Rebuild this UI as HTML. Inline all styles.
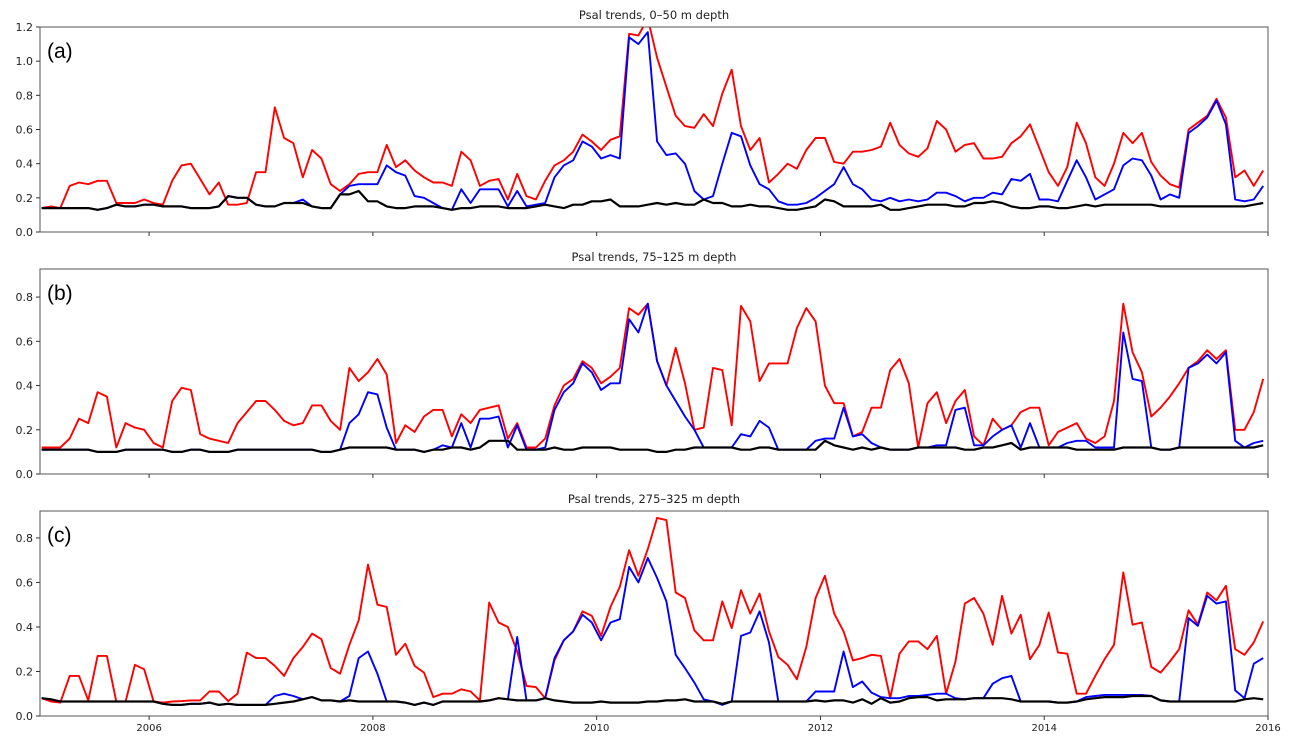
<!DOCTYPE html>
<html><head><meta charset="utf-8">
<style>
html,body{margin:0;padding:0;background:#fff;}
svg{display:block;font-family:"DejaVu Sans","Liberation Sans",sans-serif;}
</style></head>
<body>
<svg id="chart" width="1294" height="746" viewBox="0 0 1294 746" xmlns="http://www.w3.org/2000/svg"></svg>
<script>
const xTickYears = [2006, 2008, 2010, 2012, 2014, 2016];
const panelTitles = ["Psal trends, 0\u201350 m depth", "Psal trends, 75\u2013125 m depth", "Psal trends, 275\u2013325 m depth"];
const panelLetters = ["(a)", "(b)", "(c)"];
const yTicksA = [0.0, 0.2, 0.4, 0.6, 0.8, 1.0, 1.2];
const yTicksB = [0.0, 0.2, 0.4, 0.6, 0.8];
const yTicksC = [0.0, 0.2, 0.4, 0.6, 0.8];
const startYear = 2005.04;

const redA = [.14,.15,.14,.27,.29,.28,.30,.30,.17,.17,
.17,.19,.17,.16,.30,.39,.40,.31,.22,.29,
.16,.16,.17,.35,.35,.73,.55,.52,.32,.48,
.43,.28,.24,.28,.34,.35,.35,.51,.38,.42,
.36,.32,.29,.29,.27,.47,.42,.27,.30,.31,
.19,.34,.21,.19,.30,.39,.42,.47,.57,.53,
.48,.54,.56,1.16,1.15,1.25,1.02,.85,.68,.62,
.61,.69,.62,.81,.95,.62,.48,.55,.29,.34,
.40,.37,.48,.55,.55,.41,.40,.47,.47,.48,
.50,.64,.51,.46,.44,.49,.65,.60,.47,.51,
.52,.43,.43,.44,.52,.56,.63,.49,.35,.27,
.38,.64,.52,.32,.27,.40,.58,.52,.58,.41,
.33,.28,.26,.60,.64,.68,.78,.67,.32,.36,
.27,.36];
const blueA = [.14,.14,.14,.14,.14,.14,.13,.14,.16,.15,
.15,.16,.16,.15,.15,.15,.14,.14,.14,.15,
.21,.20,.20,.16,.15,.15,.17,.17,.19,.15,
.14,.14,.22,.27,.28,.28,.28,.39,.35,.33,
.21,.20,.17,.14,.13,.25,.17,.25,.25,.25,
.15,.24,.15,.16,.17,.32,.39,.42,.53,.50,
.43,.45,.43,1.14,1.10,1.17,.53,.45,.46,.40,
.24,.19,.21,.40,.58,.56,.39,.28,.25,.18,
.16,.16,.17,.20,.24,.28,.38,.28,.25,.19,
.18,.20,.18,.19,.18,.19,.23,.23,.21,.18,
.20,.20,.23,.22,.31,.30,.34,.19,.19,.18,
.30,.42,.32,.19,.22,.25,.39,.43,.42,.33,
.19,.22,.20,.58,.62,.67,.77,.63,.19,.18,
.19,.27];
const blackA = [.14,.14,.14,.14,.14,.14,.13,.14,.16,.15,
.15,.16,.16,.15,.15,.15,.14,.14,.14,.15,
.21,.20,.20,.16,.15,.15,.17,.17,.17,.15,
.14,.14,.22,.22,.24,.18,.18,.15,.14,.14,
.15,.15,.15,.14,.13,.14,.14,.15,.15,.15,
.14,.14,.14,.15,.16,.15,.14,.16,.16,.18,
.18,.19,.15,.15,.15,.16,.17,.16,.17,.16,
.16,.19,.17,.17,.15,.15,.16,.15,.15,.14,
.13,.13,.14,.15,.19,.18,.15,.15,.15,.15,
.16,.13,.13,.14,.15,.16,.16,.16,.15,.15,
.17,.17,.18,.17,.15,.14,.14,.15,.15,.14,
.14,.15,.16,.15,.16,.16,.16,.16,.16,.16,
.15,.15,.15,.15,.15,.15,.15,.15,.15,.15,
.16,.17];

const redB = [.12,.12,.12,.16,.25,.23,.37,.35,.12,.23,
.21,.20,.14,.12,.33,.39,.38,.18,.16,.15,
.14,.23,.28,.33,.33,.29,.24,.22,.23,.31,
.31,.24,.20,.48,.42,.46,.52,.45,.14,.22,
.19,.26,.29,.29,.17,.27,.23,.29,.30,.31,
.16,.23,.12,.12,.16,.31,.40,.43,.51,.48,
.41,.44,.48,.75,.72,.77,.51,.40,.57,.41,
.20,.21,.48,.47,.22,.76,.69,.42,.50,.50,
.50,.66,.75,.69,.40,.32,.32,.17,.19,.30,
.30,.47,.52,.41,.12,.32,.37,.23,.33,.38,
.17,.13,.25,.20,.22,.28,.30,.30,.13,.19,
.21,.23,.16,.14,.17,.33,.77,.55,.46,.26,
.30,.35,.41,.48,.51,.56,.52,.56,.20,.20,
.28,.43];
const blueB = [.11,.11,.11,.11,.11,.11,.10,.10,.10,.11,
.11,.11,.11,.11,.10,.10,.11,.11,.10,.10,
.10,.11,.11,.11,.11,.11,.11,.11,.11,.11,
.10,.10,.11,.23,.27,.37,.36,.21,.11,.11,
.11,.10,.11,.13,.12,.23,.12,.25,.25,.26,
.12,.22,.11,.11,.12,.29,.37,.41,.50,.46,
.38,.41,.41,.70,.64,.77,.51,.40,.33,.26,
.20,.12,.12,.12,.12,.18,.17,.24,.21,.11,
.11,.11,.11,.15,.16,.16,.30,.17,.18,.14,
.12,.11,.11,.11,.12,.12,.13,.13,.29,.30,
.13,.13,.17,.20,.22,.12,.23,.12,.12,.12,
.14,.15,.15,.12,.12,.12,.64,.43,.42,.12,
.11,.11,.12,.48,.50,.54,.50,.55,.15,.12,
.14,.15];
const blackB = [.11,.11,.11,.11,.11,.11,.10,.10,.10,.11,
.11,.11,.11,.11,.10,.10,.11,.11,.10,.10,
.10,.11,.11,.11,.11,.11,.11,.11,.11,.11,
.10,.10,.11,.12,.12,.12,.12,.12,.11,.11,
.11,.10,.11,.11,.12,.12,.11,.12,.15,.15,
.15,.11,.11,.11,.11,.12,.11,.11,.12,.12,
.12,.12,.11,.11,.11,.11,.10,.10,.11,.11,
.12,.12,.12,.12,.12,.11,.11,.12,.12,.11,
.11,.11,.11,.11,.15,.13,.12,.11,.12,.11,
.12,.11,.11,.11,.12,.12,.12,.12,.12,.11,
.11,.12,.12,.13,.14,.11,.12,.12,.12,.12,
.12,.11,.11,.11,.11,.11,.12,.12,.12,.12,
.11,.11,.12,.12,.12,.12,.12,.12,.12,.12,
.12,.13];

const redC = [.08,.065,.06,.18,.18,.07,.27,.27,.065,.065,
.23,.21,.065,.06,.065,.067,.07,.07,.11,.11,
.067,.10,.285,.26,.26,.225,.18,.26,.31,.37,
.345,.215,.19,.32,.43,.68,.50,.49,.275,.325,
.225,.195,.085,.10,.10,.12,.11,.07,.51,.42,
.40,.29,.135,.13,.08,.25,.34,.38,.47,.45,
.36,.49,.58,.745,.63,.75,.89,.88,.555,.53,
.385,.34,.34,.515,.395,.565,.46,.55,.38,.265,
.23,.165,.31,.53,.63,.46,.38,.25,.26,.275,
.27,.08,.28,.335,.335,.30,.36,.10,.245,.505,
.53,.46,.32,.54,.37,.455,.255,.32,.465,.285,
.28,.10,.10,.18,.255,.32,.645,.41,.42,.22,
.195,.245,.30,.475,.41,.555,.52,.585,.30,.275,
.33,.425];
const blueC = [.08,.075,.065,.065,.065,.065,.065,.065,.065,.065,
.065,.065,.065,.055,.05,.05,.055,.055,.06,.05,
.055,.05,.05,.05,.05,.09,.10,.09,.075,.085,
.07,.07,.065,.09,.26,.29,.19,.065,.065,.06,
.05,.06,.05,.065,.065,.065,.065,.065,.07,.08,
.075,.355,.07,.07,.08,.26,.34,.38,.455,.42,
.34,.42,.435,.67,.60,.71,.62,.515,.275,.215,
.15,.075,.065,.05,.065,.36,.375,.47,.33,.065,
.065,.065,.065,.11,.11,.11,.29,.13,.155,.105,
.085,.08,.08,.09,.09,.095,.10,.10,.08,.075,
.08,.08,.145,.17,.18,.065,.065,.065,.065,.06,
.06,.065,.085,.09,.095,.095,.095,.095,.095,.09,
.07,.065,.065,.44,.405,.54,.505,.515,.115,.08,
.235,.26];
const blackC = [.08,.075,.065,.065,.065,.065,.065,.065,.065,.065,
.065,.065,.065,.055,.05,.05,.055,.055,.06,.05,
.055,.05,.05,.05,.05,.055,.06,.065,.075,.085,
.07,.07,.065,.07,.065,.065,.065,.065,.065,.06,
.05,.06,.05,.065,.065,.065,.065,.065,.07,.08,
.075,.07,.07,.07,.08,.07,.065,.06,.06,.06,
.065,.06,.06,.06,.06,.065,.065,.07,.07,.075,
.065,.065,.065,.055,.065,.065,.065,.065,.065,.065,
.065,.065,.065,.07,.065,.07,.07,.06,.075,.055,
.08,.06,.065,.08,.085,.085,.07,.075,.075,.075,
.08,.08,.08,.08,.075,.065,.065,.065,.065,.06,
.06,.065,.075,.08,.085,.085,.085,.09,.09,.09,
.07,.065,.065,.065,.065,.065,.065,.065,.065,.075,
.08,.075];

const NS = "http://www.w3.org/2000/svg";
const svg = document.getElementById("chart");
const X0 = 40, X1 = 1268;
const xMin = 2005.025, xMax = 2016.0;
function xScale(t){ return X0 + (t - xMin) / (xMax - xMin) * (X1 - X0); }
function mk(tag, attrs, parent){
  const e = document.createElementNS(NS, tag);
  for (const k in attrs) e.setAttribute(k, attrs[k]);
  (parent || svg).appendChild(e);
  return e;
}
const panels = [
  {top:27, bottom:232, ymax:1.2, ticks:yTicksA, red:redA, blue:blueA, black:blackA, key:"a"},
  {top:269, bottom:474, ymax:0.927, ticks:yTicksB, red:redB, blue:blueB, black:blackB, key:"b"},
  {top:511, bottom:716, ymax:0.921, ticks:yTicksC, red:redC, blue:blueC, black:blackC, key:"c"}
];
panels.forEach((p, pi) => {
  const g = mk("g", {});
  
  
  const yScale = v => p.bottom - v / p.ymax * (p.bottom - p.top);
  const clipId = "clip" + pi;
  const cp = mk("clipPath", {id: clipId}, g);
  mk("rect", {x: X0, y: p.top, width: X1 - X0, height: p.bottom - p.top}, cp);
  const title = mk("text", {x: 654, y: p.top - 8, "text-anchor": "middle", "font-size": "11.5", fill: "#222"}, g);
  title.textContent = panelTitles[pi];
  
  
  const series = [["red", p.red, "#ff0000"], ["blue", p.blue, "#0000ff"], ["black", p.black, "#000000"]];
  series.forEach(([nm, arr, col]) => {
    const pts = arr.map((v, i) => xScale(startYear + i / 12).toFixed(1) + "," + yScale(v).toFixed(1)).join(" ");
    const pl = mk("polyline", {points: pts, fill: "none", stroke: col, "stroke-width": nm === "black" ? 2.2 : 1.9, "stroke-linejoin": "round", "clip-path": "url(#" + clipId + ")"}, g);
    
    
  });
  const frame = mk("rect", {x: X0, y: p.top, width: X1 - X0, height: p.bottom - p.top, fill: "none", stroke: "#555", "stroke-width": 1}, g);
  
  
  p.ticks.forEach(v => {
    const y = yScale(v);
    mk("line", {x1: X0 - 4, x2: X0, y1: y, y2: y, stroke: "#333", "stroke-width": 1}, g);
    const t = mk("text", {x: X0 - 7, y: y + 4, "text-anchor": "end", "font-size": "11", fill: "#222"}, g);
    t.textContent = v.toFixed(1);
    
    
  });
  xTickYears.forEach(yr => {
    const x = xScale(yr);
    mk("line", {x1: x, x2: x, y1: p.bottom, y2: p.bottom + 4, stroke: "#333", "stroke-width": 1}, g);
    if (pi === 2) {
      const t = mk("text", {x: x, y: p.bottom + 15, "text-anchor": "middle", "font-size": "10", fill: "#222"}, g);
      t.textContent = String(yr);
      
      
    }
  });
  const lab = mk("text", {x: 47, y: p.top + 31, "font-size": "21", fill: "#000", "font-family": "Liberation Sans, sans-serif"}, g);
  lab.textContent = panelLetters[pi];
  
  
});
</script>
</body></html>
